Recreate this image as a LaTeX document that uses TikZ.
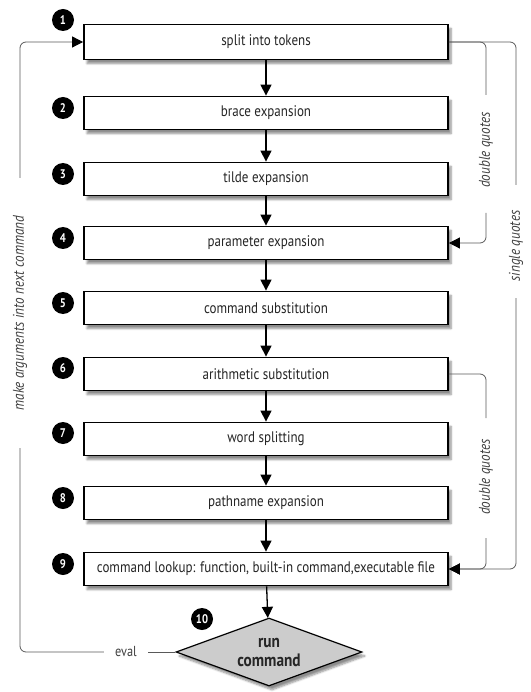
\documentclass[tikz,border=0pt]{standalone}
\usepackage{fontspec}
\setmainfont{PT Sans}[FakeStretch=0.85]
\usetikzlibrary{arrows.meta,shapes.geometric,shadows.blur}

\begin{document}
\begin{tikzpicture}[x=1pt,y=-1pt,
  stage/.style={draw=black,line width=1.8pt,fill=white,minimum width=364pt,
    minimum height=33pt,inner sep=0pt,text=black!85,
    font=\fontsize{15.3}{17}\selectfont,
    blur shadow={shadow xshift=3pt,shadow yshift=-4pt,shadow blur steps=6,shadow opacity=45}},
  num/.style={circle,fill=black,text=white,minimum size=22pt,inner sep=0pt,
    font=\fontsize{12.5}{12}\bfseries\selectfont},
  flow/.style={-{Triangle[length=11pt,width=11pt]},line width=1.3pt},
  quote/.style={black!65,line width=0.8pt,rounded corners=6pt},
  tip/.style={-{Triangle[length=11pt,width=11pt,color=black]}},
  note/.style={font=\fontsize{15.5}{17}\itshape\selectfont,text=black!75,rotate=90}
]
  \useasboundingbox (0,0) rectangle (530,692);

  \node[stage,minimum height=35pt] (s1) at (266,42) {split into tokens};
  \node[stage] (s2) at (266,113) {brace expansion};
  \node[stage] (s3) at (266,179) {tilde expansion};
  \node[stage] (s4) at (266,243) {parameter expansion};
  \node[stage] (s5) at (266,308) {command substitution};
  \node[stage] (s6) at (266,374) {arithmetic substitution};
  \node[stage] (s7) at (266,439) {word splitting};
  \node[stage] (s8) at (266,503) {pathname expansion};
  \node[stage] (s9) at (266,569) {command lookup: function, built-in command,executable file};
  \node[diamond,draw=black,line width=1.2pt,fill=black!20,aspect=2.7,
    minimum width=186pt,minimum height=68pt,inner sep=0pt,align=center,
    font=\fontsize{18}{19}\bfseries\selectfont,text=black!85,
    blur shadow={shadow xshift=3pt,shadow yshift=-4pt,shadow blur steps=6,shadow opacity=45}]
    (run) at (269,652) {run\\command};

  \node[num] (n1) at (63,20) {1};
  \node[num] (n2) at (63,108) {2};
  \node[num] (n3) at (63,174) {3};
  \node[num] (n4) at (63,238) {4};
  \node[num] (n5) at (63,303) {5};
  \node[num] (n6) at (63,368) {6};
  \node[num] (n7) at (63,433) {7};
  \node[num] (n8) at (63,498) {8};
  \node[num] (n9) at (63,564) {9};
  \node[num] (n10) at (202,619) {10};

  \draw[flow] (s1) -- (s2);
  \draw[flow] (s2) -- (s3);
  \draw[flow] (s3) -- (s4);
  \draw[flow] (s4) -- (s5);
  \draw[flow] (s5) -- (s6);
  \draw[flow] (s6) -- (s7);
  \draw[flow] (s7) -- (s8);
  \draw[flow] (s8) -- (s9);
  \draw[flow] (s9) -- (run);

  % eval loop back to the top
  \coordinate (lt) at (20,178);
  \coordinate (lb) at (20,448);
  \node[note] (args) at (20,313) {make arguments into next command};
  \node[inner xsep=11pt,text=black!75,font=\fontsize{14.5}{16}\selectfont] (eval) at (126,652) {eval};
  \draw[quote,tip] (lt) |- (s1.west);
  \draw[quote] (lb) |- (eval.west);
  \draw[quote] (eval.east) -- (run.west);

  % quoting shortcuts
  \coordinate (dqa) at (486,95);
  \coordinate (dqb) at (486,213);
  \coordinate (sqa) at (516,185);
  \coordinate (sqb) at (516,298);
  \coordinate (dqc) at (486,418);
  \coordinate (dqd) at (486,538);
  \node[note] (dq1) at (486,150) {double quotes};
  \node[note] (sq) at (516,246) {single quotes};
  \node[note] (dq2) at (486,477) {double quotes};
  \draw[quote] (s1.east) -| (dqa);
  \draw[quote,tip] (dqb) |- (s4.east);
  \draw[quote] (s1.east) -| (sqa);
  \draw[quote,tip] (sqb) |- (s9.east);
  \draw[quote] (s6.east) -| (dqc);
  \draw[quote,tip] (dqd) |- (s9.east);
\end{tikzpicture}
\end{document}
